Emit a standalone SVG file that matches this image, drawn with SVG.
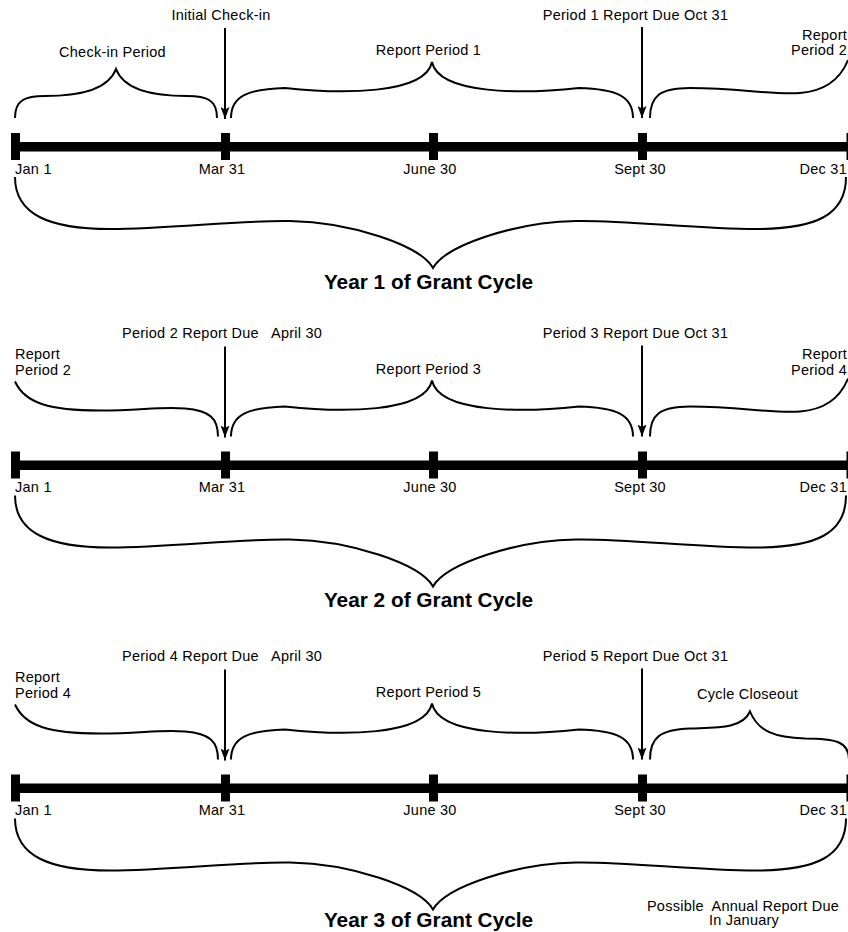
<svg xmlns="http://www.w3.org/2000/svg" width="848" height="932" viewBox="0 0 848 932">
<style>
.t{font-family:"Liberation Sans",Arial,sans-serif;font-size:14.5px;letter-spacing:0.25px;fill:#000}
.m{text-anchor:middle}
.e{text-anchor:end}
.b{font-family:"Liberation Sans",Arial,sans-serif;font-size:20.8px;font-weight:bold;fill:#000;text-anchor:middle}
.br{fill:none;stroke:#000;stroke-width:2}
.ar{stroke:#000;stroke-width:2;fill:none}
.k{fill:#000}
</style>
<defs>
<marker id="ah" markerUnits="userSpaceOnUse" viewBox="0 0 12 9" refX="12" refY="4.5" markerWidth="12" markerHeight="9" orient="auto">
<path d="M0,0 L12,4.5 L0,9 L2.5,4.5 Z" fill="#000"/>
</marker>
<g id="bar">
<rect class="k" x="15" y="142" width="840" height="9.5"/>
<rect class="k" x="11" y="133" width="9" height="27"/>
<rect class="k" x="221" y="133" width="9" height="27"/>
<rect class="k" x="429" y="133" width="9" height="27"/>
<rect class="k" x="638" y="133" width="9" height="27"/>
<rect class="k" x="846.5" y="133" width="9" height="27"/>
</g>
<g id="dates">
<text class="t" x="15" y="173.5">Jan 1</text>
<text class="t m" x="222" y="173.5">Mar 31</text>
<text class="t m" x="430" y="173.5">June 30</text>
<text class="t m" x="640" y="173.5">Sept 30</text>
<text class="t e" x="847" y="173.5">Dec 31</text>
</g>
<path id="braceBottom" class="br" d="M15,177 C15,215 50,229 110,229 C170,229 240,220 290,221 C350,222 420,245 433,268 C446,245 516,222 576,221 C626,220 696,229 756,229 C816,229 846,215 846,177"/>
<path id="braceMid" class="br" d="M231,118 C231,96 248,89 285,88 C340,94 425,95 432,62 C439,95 524,94 579,88 C616,89 633,96 633,118"/>
<path id="braceRightHalf" class="br" d="M650,118 C650,96 660,88 690,88 C740,88 770,95 800,93 C825,91 840,80 848,60"/>
<path id="braceLeftHalf" class="br" d="M15,63 C25,85 50,92 100,92 C140,92 160,88 185,90 C210,92 218,100 218,118"/>
</defs>

<g id="year1">
<g id="y1-timeline"><use href="#bar"/><use href="#dates"/></g>
<g id="y1-checkin-period">
<path class="br" d="M15,118 C15,100 25,96 45,96 C80,96 108,90 116,69 C124,90 152,96 187,96 C207,96 217,100 217,118"/>
<text class="t m" x="112.5" y="57">Check-in Period</text>
</g>
<g id="y1-report-period-1">
<use href="#braceMid"/>
<text class="t m" x="428.5" y="55">Report Period 1</text>
</g>
<g id="y1-report-period-2">
<use href="#braceRightHalf"/>
<text class="t e" x="847" y="40">Report</text>
<text class="t e" x="847" y="55">Period 2</text>
</g>
<g id="y1-initial-checkin"><text class="t m" x="221" y="19.5">Initial Check-in</text></g>
<g id="y1-period1-due"><text class="t m" x="635.5" y="19.5">Period 1 Report Due Oct 31</text></g>
<g id="y1-year">
<use href="#braceBottom"/>
<text class="b" x="428.5" y="288.5">Year 1 of Grant Cycle</text>
</g>
</g>

<g id="year2" transform="translate(0,318.5)">
<g id="y2-timeline"><use href="#bar"/><use href="#dates"/></g>
<g id="y2-report-period-2">
<use href="#braceLeftHalf"/>
<text class="t" x="15" y="40.5">Report</text>
<text class="t" x="15" y="56">Period 2</text>
</g>
<g id="y2-report-period-3">
<use href="#braceMid"/>
<text class="t m" x="428.5" y="55">Report Period 3</text>
</g>
<g id="y2-report-period-4">
<use href="#braceRightHalf"/>
<text class="t e" x="847" y="40.5">Report</text>
<text class="t e" x="847" y="56">Period 4</text>
</g>
<g id="y2-period2-due"><text class="t" x="122" y="19.5" xml:space="preserve">Period 2 Report Due   April 30</text></g>
<g id="y2-period3-due"><text class="t m" x="635.5" y="19.5">Period 3 Report Due Oct 31</text></g>
<g id="y2-year">
<use href="#braceBottom"/>
<text class="b" x="428.5" y="288.5">Year 2 of Grant Cycle</text>
</g>
</g>

<g id="year3" transform="translate(0,641.5)">
<g id="y3-timeline"><use href="#bar"/><use href="#dates"/></g>
<g id="y3-report-period-4">
<use href="#braceLeftHalf"/>
<text class="t" x="15" y="40.5">Report</text>
<text class="t" x="15" y="56">Period 4</text>
</g>
<g id="y3-report-period-5">
<use href="#braceMid"/>
<text class="t m" x="428.5" y="55">Report Period 5</text>
</g>
<g id="y3-cycle-closeout">
<path class="br" d="M650,118 C650,96 660,88 690,87 C715,86 742,88 750,70 C758,90 775,96 805,97 C835,97 849,100 849,118"/>
<text class="t m" x="747.5" y="57.5">Cycle Closeout</text>
</g>
<g id="y3-period4-due"><text class="t" x="122" y="19.5" xml:space="preserve">Period 4 Report Due   April 30</text></g>
<g id="y3-period5-due"><text class="t m" x="635.5" y="19.5">Period 5 Report Due Oct 31</text></g>
<g id="y3-year">
<use href="#braceBottom"/>
<text class="b" x="428.5" y="285.5">Year 3 of Grant Cycle</text>
</g>
<g id="y3-annual-report">
<text class="t m" x="743" y="269.2" xml:space="preserve">Possible  Annual Report Due</text>
<text class="t m" x="744" y="283.5">In January</text>
</g>
</g>

<g id="connectors">
<line class="ar" x1="225" y1="28" x2="225" y2="119" marker-end="url(#ah)"/>
<line class="ar" x1="642" y1="27" x2="642" y2="118" marker-end="url(#ah)"/>
<line class="ar" x1="225" y1="346.5" x2="225" y2="437.5" marker-end="url(#ah)"/>
<line class="ar" x1="642" y1="345.5" x2="642" y2="436.5" marker-end="url(#ah)"/>
<line class="ar" x1="225" y1="669.5" x2="225" y2="760.5" marker-end="url(#ah)"/>
<line class="ar" x1="642" y1="668.5" x2="642" y2="759.5" marker-end="url(#ah)"/>
</g>
</svg>
